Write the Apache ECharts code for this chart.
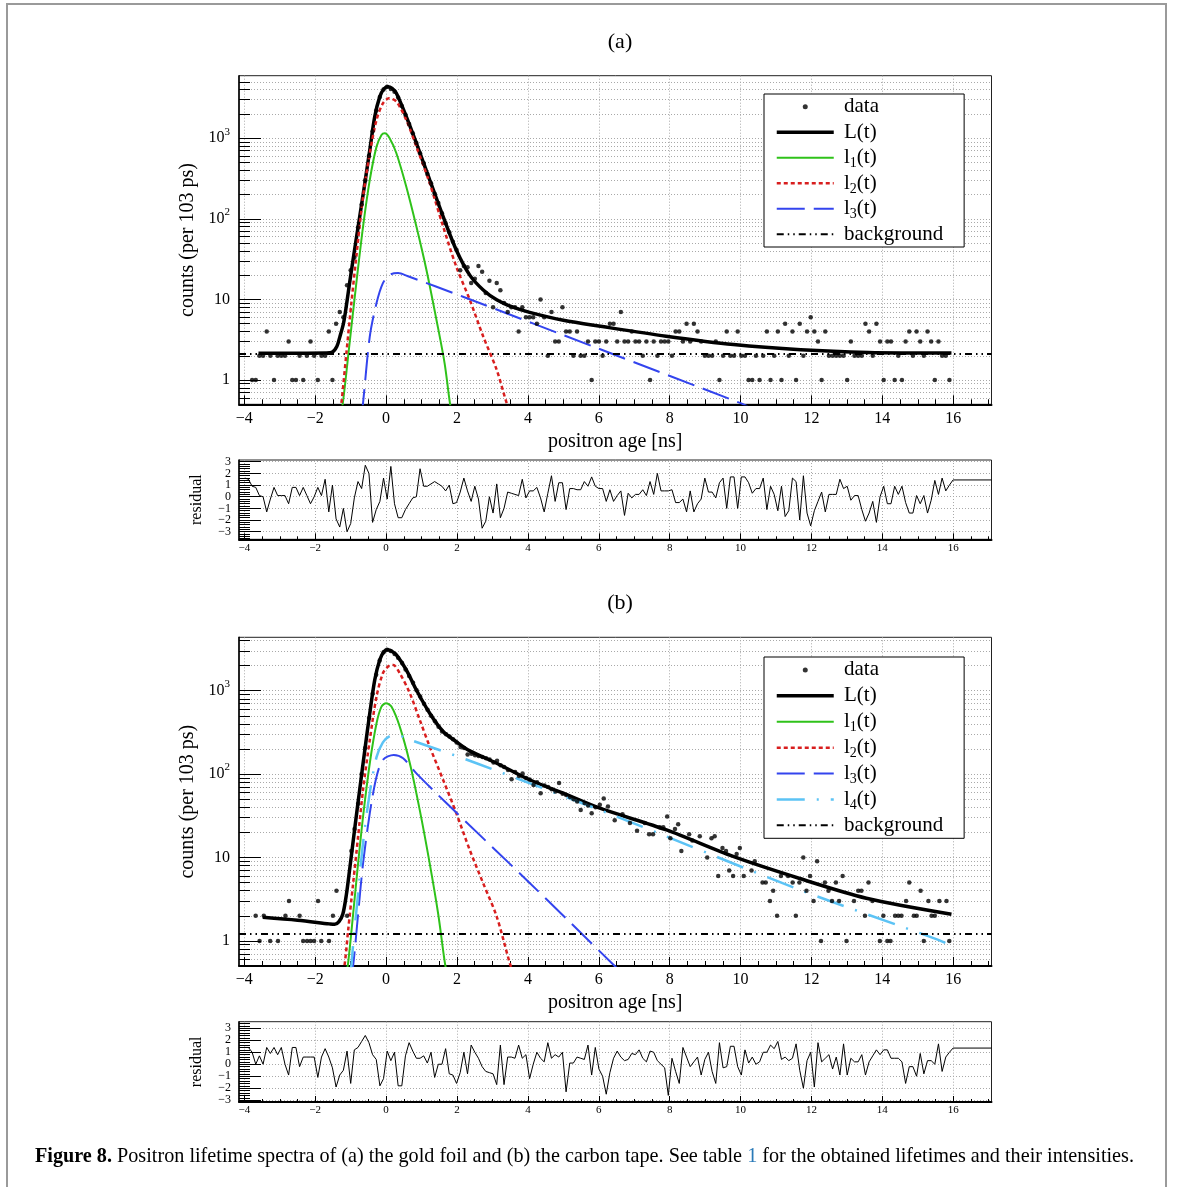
<!DOCTYPE html>
<html><head><meta charset="utf-8">
<script src="https://cdn.jsdelivr.net/npm/echarts@6/dist/echarts.min.js"></script>
<style>html,body{margin:0;padding:0;background:#fff}#c{width:1181px;height:1187px}</style>
</head><body><div id="c"></div>
<script>
const FONT = "'Liberation Serif','Times New Roman',serif";

// ---------- axis ranges & tick labels ----------
const X_MIN = -4.15, X_MAX = 17.08;
const X_MAJOR = [-4, -2, 0, 2, 4, 6, 8, 10, 12, 14, 16];
const Y_MAJOR = [1, 10, 100, 1000];
const R_MAJOR = [-3, -2, -1, 0, 1, 2, 3];
const R_LABELS_ODD = [-3, -1, 1, 3];
const R_LABELS_EVEN = [-2, 0, 2];
const Y_MIN = 0.5, Y_MAX_A = 5950, Y_MAX_B = 4370;
const R_MIN_A = -3.65, R_MAX_A = 3.15, R_MIN_B = -3.15, R_MAX_B = 3.55;

// ---------- panel (a): gold foil ----------
const BIN_WIDTH = 0.103;
const A_FIRST_BIN = -3.78;
const A_COUNTS = [
  1,1,2,2,4,2,1,2,2,2,3,1,1,2,1,2,3,2,1,2,2,4,1,5,7,6,15,23,33,
  78,150,300,600,1220,2200,3250,4000,4330,4070,3750,3200,2500,1950,1500,1150,870,650,490,360,275,205,157,117,
  88,68,52,41,23,26,25,16,18,26,22,12,17,8,16,13,9,7,8,8,4,8,6,
  6,6,5,10,6,2,7,3,3,8,4,4,2,4,2,2,3,1,3,
  3,2,3,5,5,3,7,3,3,4,3,3,2,3,1,3,2,3,3,3,2,4,4,3,5,3,5,4,3,2,2,2,3,1,2,4,2,2,4,2,2,1,1,2,1,2,4,1,2,4,1,5,2,4,1,5,2,4,6,4,3,1,4,2,2,2,2,2,1,3,2,2,2,5,4,2,5,3,1,3,3,1,2,1,3,4,2,4,3,2,4,3,1,3,2,2,1
];
const L_A = [[-3.6,2.15],[-2.5,2.15],[-1.7,2.16],[-1.53,2.2],[-1.39,2.6],[-1.3,3.5],[-1.2,5.1],[-1.11,9],[-1.03,16],[-0.89,41],[-0.745,106],[-0.6,276],[-0.46,714],[-0.32,1850],[-0.18,3250],[-0.06,4100],[0.05,4350],[0.17,4150],[0.29,3600],[0.57,1850],[0.855,865],[1.23,303],[1.61,106],[1.98,41],[2.36,20],[2.74,13.1],[3.12,9.9],[3.58,8.0],[4.05,6.9],[5.0,5.5],[6.1,4.6],[7.9,3.5],[9.8,2.75],[11.7,2.37],[13.6,2.2],[15.95,2.16]];
const L1_A = [[-1.3,0.35],[-1.22,0.52],[-1.03,2.87],[-0.84,15.9],[-0.65,80],[-0.46,304],[-0.27,785],[-0.13,1096],[-0.04,1150],[0.1,1000],[0.29,650],[0.57,250],[0.855,80],[1.14,23],[1.42,5.6],[1.65,1.62],[1.8,0.52],[1.9,0.3]];
const L2_A = [[-1.32,0.35],[-1.26,0.52],[-1.12,2.16],[-0.98,9],[-0.84,34],[-0.65,188],[-0.46,650],[-0.27,1680],[-0.09,2700],[0.08,3120],[0.29,2840],[0.57,1680],[0.855,785],[1.23,276],[1.61,80],[1.98,25.5],[2.36,9.9],[2.74,3.47],[3.12,1.34],[3.4,0.52],[3.55,0.35]];
const L3_A = [[-0.7,0.35],[-0.65,0.52],[-0.46,3.47],[-0.27,9],[-0.09,15.9],[0.1,20.2],[0.34,21.2],[0.6,19.5],[2.17,10.8],[6.0,2.45],[9.98,0.52],[10.2,0.47]];
const BG_A = [[X_MIN,2.1],[X_MAX,2.1]];
const RES_FIRST_BIN = -3.986;
const RES_A = [
  1.6,1.5,0.9,0.8,0.1,0.0,-1.3,-0.2,0.8,0.1, 0.1,0.1,-0.6,0.8,0.8,0.1,0.8,0.1,-0.6,0.0,
  0.8,0.1,1.5,-1.3,1.0,-1.9,-2.6,-1.0,-3.0,-2.3, -0.1,1.3,0.7,2.7,2.0,-2.2,-1.1,-0.4,1.6,-0.2,
  2.6,-0.6,-1.8,-1.8,-1.1,-0.6,-0.1,0.0,2.4,0.9, 0.9,1.1,1.3,1.1,0.9,0.5,1.0,-0.6,-0.5,0.4,
  1.6,0.5,-0.4,0.9,-0.2,-2.7,-2.1,0.0,-1.4,1.1, -1.8,-1.0,0.4,0.3,0.2,0.1,1.5,-0.1,0.5,0.5,
  0.8,-0.1,-1.3,0.3,1.8,-0.4,1.2,1.2,-1.1,0.7, 0.7,0.6,0.6,1.3,0.9,1.7,0.9,
  0.7,0.7,-0.4,0.6,-0.4,0.1,0.5,-1.6,0.3,-0.1, 0.2,0.2,0.6,0.1,1.3,0.2,2.0,0.5,0.5,0.5,
  0.6,-0.5,-0.5,-0.2,-1.3,0.5,-1.3,-0.6,-0.2,1.6, 0.4,0.4,-0.1,1.2,1.6,-1.0,1.7,1.7,-1.0,1.7,
  1.7,1.2,0.3,0.7,0.7,1.6,-1.1,0.9,0.2,-1.2, 0.9,-1.7,-1.2,1.6,1.3,-2.0,1.8,-1.4,-2.5,-1.2,
  -0.4,0.4,-1.3,0.2,0.2,0.2,1.5,0.7,0.9,-0.3, 0.1,0.1,-1.1,-2.1,-1.4,-0.4,-2.2,0.0,0.9,-0.6,
  -0.6,0.9,0.2,0.9,-0.5,-1.4,-1.4,0.1,-0.6,0.1, -1.4,-0.3,1.4,0.2,1.6,0.5,1.0,
  1.44
];

// ---------- panel (b): carbon tape ----------
const DATA_B = [
  [-3.68,2],[-3.57,1],[-3.45,2],[-3.27,1],[-3.05,1],[-2.84,2],[-2.74,3],[-2.44,2],[-2.34,1],[-2.23,1],[-2.13,1],[-2.03,1],[-1.92,3],[-1.83,1],[-1.61,1],[-1.50,2],[-1.40,4],[-1.10,2],[-0.98,12],
  [-0.89,22],[-0.79,44],[-0.69,100],[-0.59,205],[-0.48,470],[-0.38,920],[-0.28,1550],[-0.18,2300],[-0.07,2900],[0.03,3100],[0.13,3000],[0.24,2750],[0.34,2480],[0.45,2150],[0.55,1800],[0.65,1500],[0.76,1250],[0.86,1010],[0.96,850],[1.07,700],[1.17,590],[1.27,500],[1.38,430],[1.48,370],[1.58,325],[1.69,300],[1.79,282],[1.89,262],[1.99,240],[2.10,212],[2.20,205],[2.30,172],[2.41,175],[2.51,168],[2.61,165],[2.72,160],[2.82,155],[2.92,150],[3.03,138],[3.13,145],[3.23,128],[3.33,122],[3.44,112],[3.54,87],[3.64,106],[3.75,95],[3.85,102],[3.95,90],[4.05,86],[4.16,74],[4.26,80],[4.36,59],[4.47,73],[4.57,70],[4.67,66],[4.78,62],[4.88,78],[4.98,58],[5.08,56],[5.19,53],[5.29,50],[5.39,47],[5.49,37],[5.60,45],[5.70,42],[5.80,34],[5.91,40],
  [6.03,43],[6.14,51],[6.26,41],[6.45,28],[6.67,33],[6.88,26],[7.08,21],[7.30,26],[7.42,19],[7.53,19],[7.72,23],[7.82,23],[7.93,31],[8.02,17],[8.15,22],[8.24,25],[8.33,12],[8.55,19],[8.64,16],[8.85,18],[9.06,10],[9.18,17],[9.27,18],[9.37,6],[9.49,13],[9.59,12],[9.68,7],[9.79,6],[9.89,11],[9.98,13],[10.09,6],[10.31,7],[10.40,9],[10.62,5],[10.71,5],[10.83,3],[10.92,4],[11.03,2],[11.14,6],[11.34,6],[11.47,5],[11.56,2],[11.66,5],[11.77,10],[11.86,4],[11.96,6],[12.06,3],[12.16,9],[12.27,1],[12.38,5],[12.48,4],[12.58,3],[12.69,5],[12.78,3],[12.88,6],[12.99,1],[13.20,3],[13.32,4],[13.41,4],[13.51,2],[13.61,5],[13.72,3],[13.93,1],[14.03,2],[14.14,1],[14.23,1],[14.36,2],[14.45,2],[14.54,2],[14.67,3],[14.76,5],[14.89,2],[14.97,2],[15.08,4],[15.17,1],[15.30,3],[15.39,2],[15.48,2],[15.61,3],[15.81,3],[15.89,1]
];
const L_B = [[-3.48,1.92],[-2.5,1.77],[-1.6,1.6],[-1.45,1.58],[-1.33,1.7],[-1.22,2.1],[-1.12,3.6],[-1.03,7.1],[-0.89,21.4],[-0.745,65],[-0.6,195],[-0.46,537],[-0.32,1350],[-0.18,2340],[-0.06,2950],[0.05,3090],[0.17,2950],[0.29,2690],[0.57,1780],[0.855,1020],[1.23,537],[1.61,324],[1.98,245],[2.36,190],[3.12,135],[4.06,85],[5.0,59],[6.03,39],[7.91,21.4],[9.79,10.3],[11.67,5.6],[13.55,3.25],[15.95,2.09]];
const L1_B = [[-1.15,0.35],[-1.07,0.55],[-0.93,2.1],[-0.79,8.5],[-0.65,31],[-0.46,135],[-0.27,407],[-0.13,645],[0.0,708],[0.15,645],[0.385,371],[0.67,135],[0.95,37],[1.23,8.5],[1.47,2.1],[1.66,0.54],[1.75,0.35]];
const L2_B = [[-1.25,0.35],[-1.17,0.52],[-1.07,1.35],[-0.93,4.9],[-0.79,17.8],[-0.65,65],[-0.46,257],[-0.27,850],[-0.09,1620],[0.055,1950],[0.2,2040],[0.385,1620],[0.67,930],[0.95,446],[1.23,214],[1.61,85],[1.98,34],[2.36,12.3],[2.74,4.9],[3.12,1.96],[3.49,0.54],[3.6,0.4]];
const L3_B = [[-1.0,0.35],[-0.93,0.5],[-0.79,2.1],[-0.65,8.5],[-0.46,34],[-0.27,93],[-0.09,148],[0.215,170],[0.48,155],[0.855,102],[1.7,45],[4.0,5.2],[6.45,0.5],[6.6,0.43]];
const L4_B = [[-1.0,0.4],[-0.93,0.9],[-0.79,3.7],[-0.65,15],[-0.46,60],[-0.27,160],[-0.09,240],[0.1,285],[0.29,295],[0.6,265],[2.55,135],[6.5,31],[11.67,4.1],[15.58,1.03],[15.95,0.87]];
const BG_B = [[X_MIN,1.21],[X_MAX,1.21]];
const RES_B = [
  1.4,1.4,1.0,0.0,0.7,0.0,1.4,0.9,1.4,0.8, 1.4,0.0,-0.9,1.4,1.4,-0.2,0.6,0.6,0.6,0.6,
  -1.1,0.6,1.3,0.6,-0.3,-1.9,-0.9,-0.5,1.1,-1.6, 1.2,1.4,1.9,2.4,1.8,0.8,0.4,-1.8,-1.2,1.1,
  0.3,1.0,-1.8,-1.8,0.7,1.8,1.1,0.5,0.5,0.7, 0.1,1.0,-1.1,0.0,0.0,1.3,-0.8,-0.9,-1.6,-0.7,
  1.0,-0.8,1.6,1.0,0.5,-0.2,-0.6,-0.7,-0.8,-1.7, 1.6,-1.7,0.6,0.6,0.5,1.6,0.5,0.8,-1.2,0.0,
  1.0,0.5,0.2,1.8,0.5,0.8,0.6,1.0,-2.3,0.1, 0.1,0.6,0.5,0.4,1.6,-0.9,1.4,
  -0.4,-1.0,-2.5,-0.7,0.5,1.1,0.6,0.3,0.4,0.9, 0.8,1.2,0.5,0.2,1.1,1.0,0.3,0.0,-0.3,-2.6,
  0.5,-0.6,-1.6,1.4,0.6,-0.2,0.2,0.6,-0.9,0.4, 1.0,-0.6,-1.6,1.8,-0.3,-0.2,1.5,1.5,-0.2,-0.9,
  1.2,0.1,0.6,0.0,0.2,1.0,1.0,1.6,1.3,1.9, 0.4,0.6,0.3,0.5,1.7,-0.5,-2.0,0.3,1.0,-1.9,
  1.8,0.2,0.5,0.8,-0.4,0.6,-0.9,1.7,-0.9,0.5, 0.2,0.2,0.8,-0.9,0.2,0.7,1.2,0.8,1.2,1.2,
  0.5,0.5,0.5,0.2,-1.6,-0.2,-0.2,-1.0,0.9,-0.8, 0.3,0.3,0.0,1.7,-0.6,0.6,1.0,
  1.35
];

// ---------- styles ----------
const C_GREEN = '#2fc21a', C_RED = '#d81e1e', C_BLUE = '#3344ee', C_LBLUE = '#5cc3f5';
const GRID_LINE = {show: true, lineStyle: {color: '#a9a9a9', width: 1, type: [1, 2]}};

const binsToPairs = (first, vals) => vals.map((v, i) => [+(first + i * BIN_WIDTH).toFixed(3), v]);
const DATA_A = binsToPairs(A_FIRST_BIN, A_COUNTS).filter(d => d[1] > 0);
const RES_A_PTS = binsToPairs(RES_FIRST_BIN, RES_A).concat([[X_MAX, RES_A[RES_A.length - 1]]]);
const RES_B_PTS = binsToPairs(RES_FIRST_BIN, RES_B).concat([[X_MAX, RES_B[RES_B.length - 1]]]);

const X_MINOR = []; for (let v = -4; v <= 17; v += 0.5) X_MINOR.push(v);
const R_MINOR = []; for (let v = -36; v <= 34; v += 2) R_MINOR.push(v / 10);
function logMinor(max) {
  const out = [];
  for (const d of [0.1, 1, 10, 100, 1000]) for (let m = 1; m <= 9; m++) {
    const v = +(m * d).toPrecision(3);
    if (v > Y_MIN && v < max) out.push(v);
  }
  return out;
}

const minus = v => (v < 0 ? '\u2212' + Math.abs(v) : String(v));
const logLabel = v => {
  const e = Math.round(Math.log10(v));
  return e === 0 ? '{n|1}' : e === 1 ? '{n|10}' : '{n|10}{s|' + e + '}';
};

const GRIDS = [
  {left: 239, top: 75.7, width: 752.5, height: 328.6},
  {left: 239, top: 460, width: 752.5, height: 79.3},
  {left: 239, top: 637.3, width: 752.5, height: 328.7},
  {left: 239, top: 1021.7, width: 752.5, height: 80.3}
];

const resLabel = vals => ({show: true, customValues: vals, formatter: minus, margin: 8, color: '#000', fontFamily: FONT, fontSize: 12,
  hideOverlap: false, showMinLabel: true, showMaxLabel: true});

const xAxes = [], yAxes = [];
GRIDS.forEach((g, gi) => {
  const main = gi % 2 === 0;
  xAxes.push({
    type: 'value', gridIndex: gi, min: X_MIN, max: X_MAX, position: 'bottom',
    axisLine: {show: true, onZero: false, lineStyle: {color: '#000', width: 2}},
    axisTick: {show: true, inside: true, length: main ? 9 : 6, customValues: X_MAJOR, lineStyle: {color: '#000', width: 1}},
    axisLabel: {show: true, customValues: X_MAJOR, formatter: minus, color: '#000', fontFamily: FONT, fontSize: main ? 16 : 11, margin: main ? 6 : 3, hideOverlap: false, showMinLabel: true, showMaxLabel: true},
    splitLine: GRID_LINE,
    name: main ? 'positron age [ns]' : '', nameLocation: 'middle', nameGap: 27,
    nameTextStyle: {fontFamily: FONT, fontSize: 20, color: '#000'}
  });
  xAxes.push({
    type: 'value', gridIndex: gi, min: X_MIN, max: X_MAX, position: 'bottom',
    axisLine: {show: false, onZero: false},
    axisTick: {show: true, inside: true, length: main ? 5 : 3, customValues: X_MINOR, lineStyle: {color: '#000', width: 1}},
    axisLabel: {show: false}, splitLine: {show: false}
  });
  if (main) {
    const ymax = gi === 0 ? Y_MAX_A : Y_MAX_B;
    yAxes.push({
      type: 'log', logBase: 10, gridIndex: gi, min: Y_MIN, max: ymax, position: 'left',
      axisLine: {show: true, onZero: false, lineStyle: {color: '#000', width: 1.5}},
      axisTick: {show: true, inside: true, length: 22, customValues: Y_MAJOR, lineStyle: {color: '#000', width: 1}},
      axisLabel: {show: true, customValues: Y_MAJOR, formatter: logLabel, margin: 9, color: '#000', hideOverlap: false, showMinLabel: true, showMaxLabel: true,
        rich: {n: {fontFamily: FONT, fontSize: 16, lineHeight: 24, verticalAlign: 'middle', color: '#000'},
               s: {fontFamily: FONT, fontSize: 11, verticalAlign: 'top', color: '#000'}}},
      splitLine: {show: false},
      name: 'counts (per 103 ps)', nameLocation: 'middle', nameGap: 41,
      nameTextStyle: {fontFamily: FONT, fontSize: 20, color: '#000'}
    });
    yAxes.push({
      type: 'log', logBase: 10, gridIndex: gi, min: Y_MIN, max: ymax, position: 'left',
      axisLine: {show: false, onZero: false},
      axisTick: {show: true, inside: true, length: 11, customValues: logMinor(ymax), lineStyle: {color: '#000', width: 1}},
      axisLabel: {show: false}, splitLine: GRID_LINE
    });
  } else {
    const rmin = gi === 1 ? R_MIN_A : R_MIN_B, rmax = gi === 1 ? R_MAX_A : R_MAX_B;
    yAxes.push({
      type: 'value', gridIndex: gi, min: rmin, max: rmax, position: 'left',
      axisLine: {show: true, onZero: false, lineStyle: {color: '#000', width: 1.5}},
      axisTick: {show: true, inside: true, length: 22, customValues: R_MAJOR, lineStyle: {color: '#000', width: 1}},
      axisLabel: resLabel(R_LABELS_ODD),
      splitLine: GRID_LINE,
      name: 'residual', nameLocation: 'middle', nameGap: 34,
      nameTextStyle: {fontFamily: FONT, fontSize: 16, color: '#000'}
    });
    yAxes.push({
      type: 'value', gridIndex: gi, min: rmin, max: rmax, position: 'left',
      axisLine: {show: false, onZero: false},
      axisTick: {show: true, inside: true, length: 11, customValues: R_MINOR, lineStyle: {color: '#000', width: 1}},
      axisLabel: resLabel(R_LABELS_EVEN), splitLine: {show: false}
    });
  }
});

function line(name, data, color, width, dash, axis, smooth) {
  return {
    name, type: 'line', data, xAxisIndex: axis, yAxisIndex: axis, symbol: 'none',
    smooth: smooth === undefined ? 0.3 : smooth, clip: true, color,
    itemStyle: {color}, lineStyle: {color, width, type: dash || 'solid', cap: 'butt'},
    emphasis: {disabled: true}, silent: true
  };
}
function dots(name, data, axis) {
  return {name, type: 'scatter', data, xAxisIndex: axis, yAxisIndex: axis, symbol: 'circle', symbolSize: 4.5,
    color: '#000', itemStyle: {color: '#000'}, z: 5, silent: true};
}

const DASH_L2 = [4, 3], DASH_L3 = [28, 9], DASH_L4 = [28, 12, 2, 12], DASH_BG = [7, 4, 1.5, 4, 1.5, 4];
const series = [
  line('L(t)', L_A, '#000', 3.5, null, 0),
  line('l1(t)', L1_A, C_GREEN, 2, null, 0),
  line('l2(t)', L2_A, C_RED, 2.5, DASH_L2, 0),
  line('l3(t)', L3_A, C_BLUE, 2, DASH_L3, 0),
  line('background', BG_A, '#000', 2, DASH_BG, 0, false),
  dots('data', DATA_A, 0),
  line('residual (a)', RES_A_PTS, '#000', 1, null, 2, false),
  line('L(t)', L_B, '#000', 3.5, null, 4),
  line('l1(t)', L1_B, C_GREEN, 2, null, 4),
  line('l2(t)', L2_B, C_RED, 2.5, DASH_L2, 4),
  line('l3(t)', L3_B, C_BLUE, 2, DASH_L3, 4),
  line('l4(t)', L4_B, C_LBLUE, 2.5, DASH_L4, 4),
  line('background', BG_B, '#000', 2, DASH_BG, 4, false),
  dots('data', DATA_B, 4),
  line('residual (b)', RES_B_PTS, '#000', 1, null, 6, false)
];

function legendFor(names, top, rowH) {
  return {
    show: true, orient: 'vertical', left: 764, top, selectedMode: false,
    data: names.map(n => n === 'data' ? {name: n} : {name: n, itemStyle: {opacity: 0}}),
    itemWidth: 57, itemHeight: 5, itemGap: 0, itemTextGap: 18,
    padding: [0, 21, 0, 11], backgroundColor: '#fff', borderColor: '#000', borderWidth: 1, borderRadius: 0,
    lineStyle: {width: 'inherit'},
    formatter: n => { const m = n.match(/^l(\d)\(t\)$/); return m ? '{n| l}{s|' + m[1] + '}{n|(t)}' : '{n| ' + n + '}'; },
    textStyle: {color: '#000', fontFamily: FONT, fontSize: 21, lineHeight: rowH,
      rich: {n: {fontFamily: FONT, fontSize: 21, lineHeight: rowH, verticalAlign: 'middle', color: '#000'},
             s: {fontFamily: FONT, fontSize: 14, verticalAlign: 'bottom', color: '#000'}}}
  };
}

const option = {
  animation: false,
  backgroundColor: '#fff',
  grid: GRIDS.map(g => Object.assign({show: true, borderColor: '#222', borderWidth: 1, backgroundColor: 'transparent', containLabel: false, outerBoundsMode: 'none'}, g)),
  xAxis: xAxes, yAxis: yAxes,
  legend: [
    legendFor(['data', 'L(t)', 'l1(t)', 'l2(t)', 'l3(t)', 'background'], 94, 25.5),
    legendFor(['data', 'L(t)', 'l1(t)', 'l2(t)', 'l3(t)', 'l4(t)', 'background'], 657, 25.9)
  ],
  series,
  graphic: [
    {type: 'rect', shape: {x: 7, y: 4, width: 1159, height: 1200}, style: {fill: 'none', stroke: '#9a9a9a', lineWidth: 2}, silent: true, z: -10},
    {type: 'text', x: 620, y: 42, style: {text: '(a)', fontFamily: FONT, fontSize: 22, fill: '#000', align: 'center', verticalAlign: 'middle', textAlign: 'center', textVerticalAlign: 'middle'}},
    {type: 'text', x: 620, y: 603, style: {text: '(b)', fontFamily: FONT, fontSize: 22, fill: '#000', align: 'center', verticalAlign: 'middle', textAlign: 'center', textVerticalAlign: 'middle'}},
    {type: 'text', x: 35, y: 1157, style: {
      text: '{b|Figure 8.} Positron lifetime spectra of (a) the gold foil and (b) the carbon tape. See table {l|1} for the obtained lifetimes and their intensities.',
      fontFamily: FONT, fontSize: 20.2, fill: '#000', verticalAlign: 'middle', textVerticalAlign: 'middle',
      rich: {b: {fontFamily: FONT, fontSize: 20.2, fontWeight: 'bold', fill: '#000', color: '#000'},
             l: {fontFamily: FONT, fontSize: 20.2, fill: '#2a7ab8', color: '#2a7ab8'}}}}
  ]
};

const chart = echarts.init(document.getElementById('c'), null, {renderer: 'canvas'});
chart.setOption(option);
</script>
</body></html>
